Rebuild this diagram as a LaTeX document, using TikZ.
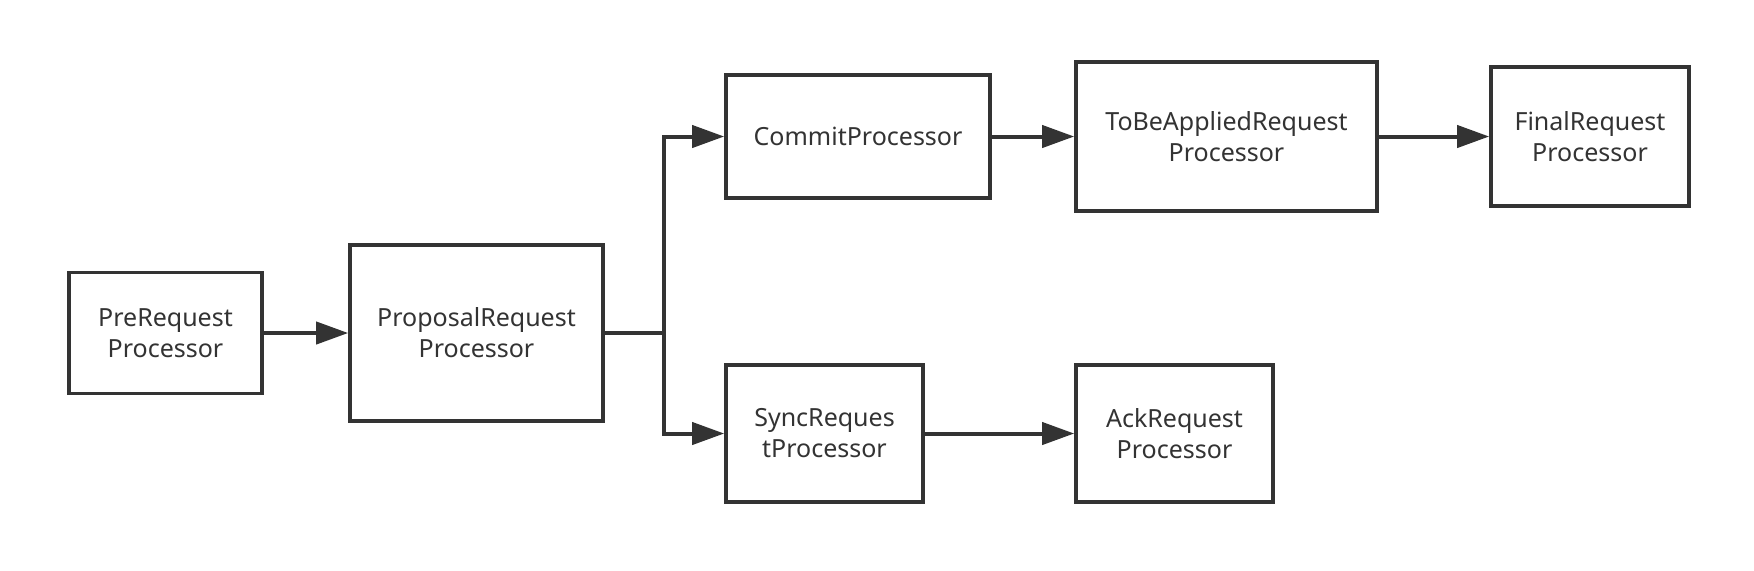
\documentclass[tikz,border=0pt]{standalone}
\usepackage{fontspec}
\setmainfont{Noto Sans}
\usetikzlibrary{arrows.meta}
\newlength{\du}
\setlength{\du}{0.5pt}
\definecolor{linecolor}{rgb}{0.200000, 0.200000, 0.200000}
\tikzset{
  procbox/.style={draw=linecolor, line width=3.6\du, fill=white, text=linecolor,
    align=center, inner sep=0pt, font=\fontsize{12.5}{15.5}\selectfont},
  flow/.style={draw=linecolor, line width=4\du, -{Triangle[length=16pt,width=11pt]}}
}
\begin{document}
\begin{tikzpicture}
\pgftransformxscale{1.000000}
\pgftransformyscale{-1.000000}
\useasboundingbox (0\du,0\du) rectangle (1754\du,570\du);
% processors
\node[procbox, minimum width=193\du, minimum height=121\du] (pre) at (165.5\du,333\du){PreRequest\\Processor};
\node[procbox, minimum width=253\du, minimum height=176\du] (proposal) at (476.5\du,333\du){ProposalRequest\\Processor};
\node[procbox, minimum width=264\du, minimum height=123\du] (commit) at (858\du,136.5\du){CommitProcessor};
\node[procbox, minimum width=301\du, minimum height=149\du] (tobeapplied) at (1226.5\du,136.5\du){ToBeAppliedRequest\\Processor};
\node[procbox, minimum width=198\du, minimum height=139\du] (final) at (1590\du,136.5\du){FinalRequest\\Processor};
\node[procbox, minimum width=197\du, minimum height=137\du] (sync) at (824.5\du,433.5\du){SyncReques\\tProcessor};
\node[procbox, minimum width=197\du, minimum height=137\du] (ack) at (1174.5\du,433.5\du){AckRequest\\Processor};
% connectors
\coordinate (fork) at (664\du,333\du);
\draw[flow] (pre.east) -- (proposal.west);
\draw[draw=linecolor, line width=4\du] (proposal.east) -- (fork);
\draw[flow] (fork) |- (commit.west);
\draw[flow] (fork) |- (sync.west);
\draw[flow] (commit.east) -- (tobeapplied.west);
\draw[flow] (tobeapplied.east) -- (final.west);
\draw[flow] (sync.east) -- (ack.west);
\end{tikzpicture}
\end{document}
